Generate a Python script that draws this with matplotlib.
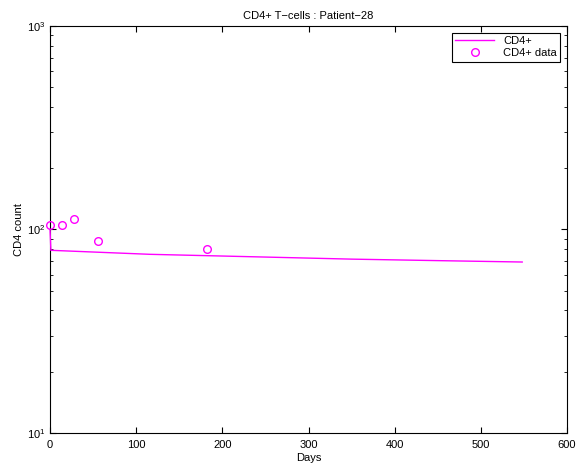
import numpy as np
import matplotlib.pyplot as plt
from matplotlib.ticker import LogLocator, NullFormatter

plt.rcParams['font.family'] = ['Liberation Sans', 'DejaVu Sans']
plt.rcParams['font.size'] = 8

# model curve
model_days = [0, 1, 116, 232, 350, 450, 548]
model_cd4 = [100, 79, 75.5, 73.5, 71.5, 70.3, 69.2]

# measured data
data_days = [0, 14, 28, 56, 182]
data_cd4 = [105, 105, 113, 88, 80]

fig = plt.figure(figsize=(5.77, 4.69), dpi=100)
ax = fig.add_axes([0.0867, 0.0768, 0.896, 0.8678])

ax.plot(model_days, model_cd4, color='#ff00ff', lw=1, label='CD4+', zorder=3, clip_on=False)
ax.plot(data_days, data_cd4, 'o', color='#ff00ff', mfc='none', ms=5.5, mew=1,
        label='CD4+ data', zorder=3, clip_on=False)

ax.set_yscale('log')
ax.set_xlim(0, 600)
ax.set_ylim(10, 1000)
ax.set_xticks(range(0, 601, 100))
ax.yaxis.set_minor_locator(LogLocator(base=10, subs=np.arange(2, 10)))
ax.yaxis.set_minor_formatter(NullFormatter())

ax.tick_params(which='both', direction='in', top=True, right=True, labelsize=8)
ax.tick_params(which='major', length=4)
ax.tick_params(which='minor', length=2)
ax.tick_params(axis='x', pad=5)
for s in ax.spines.values():
    s.set_linewidth(0.8)

ax.set_xlabel('Days', labelpad=2)
ax.set_ylabel('CD4 count', labelpad=2)
ax.set_title('CD4+ T\u2212cells : Patient\u221228', fontsize=8, pad=5)

leg = ax.legend(loc='upper right', fancybox=False, edgecolor='black', framealpha=1,
                borderaxespad=0.6, handlelength=3.5, fontsize=8, borderpad=0.3,
                labelspacing=0.2)
leg.get_frame().set_linewidth(0.8)

fig.savefig('out.png', dpi=100)
